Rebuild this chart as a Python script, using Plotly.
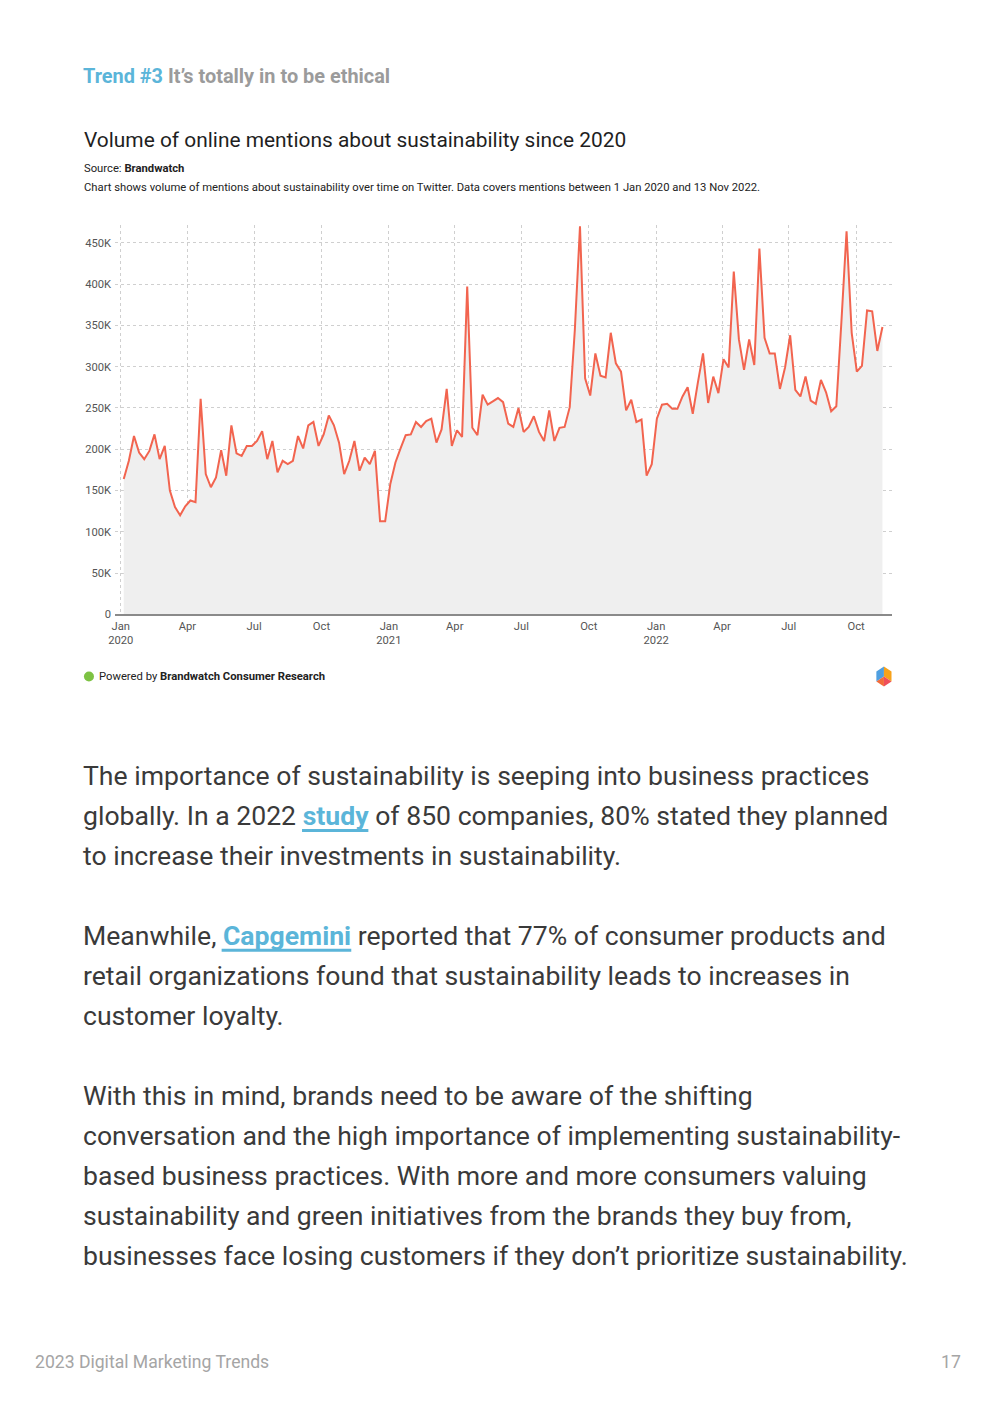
import math
import pandas as pd
import plotly.graph_objects as go

# ---------------- data ----------------
start_date = "2020-01-05"
mentions_k = [
    164, 186, 216, 196, 188, 198, 218, 188, 204, 150, 130, 120, 131, 138, 136, 261,
    170, 154, 166, 199, 168, 229, 195, 192, 204, 204, 210, 222, 188, 210, 172, 186,
    182, 186, 216, 201, 229, 233, 204, 218, 241, 229, 208, 170, 186, 210,
    174, 190, 182, 198, 113, 113, 158, 184, 201, 217, 218, 233, 227, 234, 237, 208,
    224, 273, 204, 223, 215, 397, 226, 217, 266, 254, 258, 262, 257, 231, 227, 250,
    221, 227, 240, 221, 210, 247, 210, 226, 227, 251, 345, 470, 286, 265, 316, 289,
    287, 341, 304, 294,
    247, 260, 233, 236, 168, 182, 237, 254, 255, 249, 249, 264, 275, 243, 281, 316,
    256, 288, 268, 309, 299, 415, 333, 296, 333, 302, 443, 335, 316, 316, 273, 299,
    338, 272, 264, 288, 259, 255, 284, 269, 246, 252, 355, 464, 341, 294, 301, 368,
    367, 319, 348,
]
weeks = pd.date_range(start_date, periods=len(mentions_k), freq="7D")
mentions = [v * 1000 for v in mentions_k]

x_tick_dates = ["2020-01-01", "2020-04-01", "2020-07-01", "2020-10-01",
                "2021-01-01", "2021-04-01", "2021-07-01", "2021-10-01",
                "2022-01-01", "2022-04-01", "2022-07-01", "2022-10-01"]
x_tick_labels = ["Jan<br>2020", "Apr", "Jul", "Oct",
                 "Jan<br>2021", "Apr", "Jul", "Oct",
                 "Jan<br>2022", "Apr", "Jul", "Oct"]
y_tick_vals = [0, 50000, 100000, 150000, 200000, 250000, 300000, 350000, 400000, 450000]
y_tick_labels = ["0", "50K", "100K", "150K", "200K", "250K", "300K", "350K", "400K", "450K"]

# ---------------- layout helpers ----------------
W, H = 992, 1403
# compensation for how the page ends up photographed
SX, OX = 0.988, 17.4
SY, OY = 0.9953, 7.36


def px(x):
    return ((x - OX) / SX) / W


def py(y):
    return 1 - ((y - OY) / SY) / H


FONT = "Roboto"
fig = go.Figure()

fig.add_trace(go.Scatter(
    x=weeks, y=mentions, mode="lines",
    line=dict(color="#f2644f", width=2),
    fill="tozeroy", fillcolor="#efefef",
    hoverinfo="skip", showlegend=False,
))

fig.update_layout(
    width=W, height=H,
    margin=dict(l=0, r=0, t=0, b=0),
    paper_bgcolor="white", plot_bgcolor="rgba(0,0,0,0)",
    font=dict(family=FONT, color="#444"),
    xaxis=dict(
        domain=[px(117), px(890)],
        range=["2019-12-24 05:00", "2022-11-19"],
        tickvals=x_tick_dates, ticktext=x_tick_labels,
        tickfont=dict(size=11.2, color="#555", family=FONT),
        showgrid=True, gridcolor="#cfcfcf", griddash="dot", gridwidth=1,
        showline=True, linecolor="#8a8a8a", linewidth=1.5,
        zeroline=False, ticks="", fixedrange=True,
    ),
    yaxis=dict(
        domain=[py(614), py(224)],
        range=[0, 472000],
        tickvals=y_tick_vals, ticktext=y_tick_labels,
        tickfont=dict(size=11.2, color="#555", family=FONT),
        ticklabelstandoff=3,
        showgrid=True, gridcolor="#cfcfcf", griddash="dot", gridwidth=1,
        zeroline=False, showline=False, ticks="", fixedrange=True,
    ),
)


def text(x, y, s, size, color="#333", anchor="left", weight="normal"):
    fig.add_annotation(
        x=px(x), y=py(y), xref="paper", yref="paper",
        text=s, showarrow=False, xanchor=anchor, yanchor="middle",
        font=dict(family=FONT, size=size, color=color, weight=weight),
        align=anchor, borderpad=0,
    )


BLUE = "#5bb5d9"

# header
text(84, 76, f"<span style='color:{BLUE}'>Trend #3</span> It’s totally in to be ethical",
     19.9, color="#9b9b9b", weight="bold")

# chart texts
text(85, 139, "Volume of online mentions about sustainability since 2020", 20.9, color="#1f1f1f")
text(85, 168, "Source: <b>Brandwatch</b>", 11.25, color="#222")
text(85, 187, "Chart shows volume of mentions about sustainability over time on Twitter. "
              "Data covers mentions between 1 Jan 2020 and 13 Nov 2022.", 11.25, color="#222")
text(100, 676, "Powered by <b>Brandwatch Consumer Research</b>", 11.25, color="#222")

# green dot
fig.add_shape(type="circle", xref="paper", yref="paper",
              x0=px(86), x1=px(96), y0=py(681), y1=py(671),
              fillcolor="#7dc243", line=dict(width=0))

# logo (small hexagon made of coloured pieces)
cx, cy, r = 882, 676, 10
pts = [(cx + r * 0.87 * math.cos(math.radians(a)), cy - r * math.sin(math.radians(a)))
       for a in (90, 30, -30, -90, -150, 150)]


def poly(points, color):
    d = "M " + " L ".join(f"{px(x):.5f},{py(y):.5f}" for x, y in points) + " Z"
    fig.add_shape(type="path", xref="paper", yref="paper", path=d,
                  fillcolor=color, line=dict(width=0))


c = (cx, cy)
poly([pts[5], pts[0], c, pts[4]], "#4f9fe0")
poly([pts[0], pts[1], pts[2], c], "#f7a21b")
poly([c, pts[2], pts[3]], "#ef4e5a")
poly([pts[4], c, pts[3]], "#f26b3a")

# body copy
body_lines = [
    (775, "The importance of sustainability is seeping into business practices"),
    (815, f"globally. In a 2022 <b><span style='color:{BLUE}'>study</span></b> of 850 companies, 80% stated they planned"),
    (855, "to increase their investments in sustainability."),
    (935, f"Meanwhile, <b><span style='color:{BLUE}'>Capgemini</span></b> reported that 77% of consumer products and"),
    (975, "retail organizations found that sustainability leads to increases in"),
    (1015, "customer loyalty."),
    (1095, "With this in mind, brands need to be aware of the shifting"),
    (1135, "conversation and the high importance of implementing sustainability-"),
    (1175, "based business practices. With more and more consumers valuing"),
    (1215, "sustainability and green initiatives from the brands they buy from,"),
    (1255, "businesses face losing customers if they don’t prioritize sustainability."),
]
for y, s in body_lines:
    text(84, y, s, 26.6, color="#3a3a3a")

# link underlines
for x0, x1, y in [(303, 369, 830), (223, 352, 950)]:
    fig.add_shape(type="line", xref="paper", yref="paper",
                  x0=px(x0), x1=px(x1), y0=py(y), y1=py(y),
                  line=dict(color=BLUE, width=3))

# footer
text(36, 1362, "2023 Digital Marketing Trends", 17.6, color="#a5a5a5")
text(960, 1362, "17", 17.6, color="#a5a5a5", anchor="right")

fig.write_html("out.html")
